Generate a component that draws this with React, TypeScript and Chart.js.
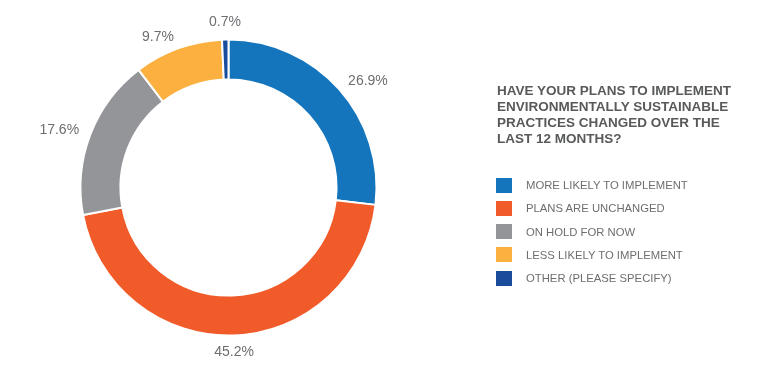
import React, { useEffect, useRef } from "react";
import { Chart, registerables } from "chart.js";

Chart.register(...registerables);

const categories = [
  "MORE LIKELY TO IMPLEMENT",
  "PLANS ARE UNCHANGED",
  "ON HOLD FOR NOW",
  "LESS LIKELY TO IMPLEMENT",
  "OTHER (PLEASE SPECIFY)",
];
const values = [26.9, 45.2, 17.6, 9.7, 0.7];
const valueLabels = ["26.9%", "45.2%", "17.6%", "9.7%", "0.7%"];
const colors = ["#1475bd", "#f15a29", "#939598", "#fbb040", "#1a4c9c"];
const titleLines = [
  "HAVE YOUR PLANS TO IMPLEMENT",
  "ENVIRONMENTALLY SUSTAINABLE",
  "PRACTICES CHANGED OVER THE",
  "LAST 12 MONTHS?",
];

const labelPlugin = {
  id: "outerLabels",
  afterDatasetsDraw(chart: any) {
    const ctx = chart.ctx;
    const meta = chart.getDatasetMeta(0);
    ctx.save();
    ctx.font = '14px "Liberation Sans", Arial, sans-serif';
    ctx.fillStyle = "#6d6e71";
    meta.data.forEach((arc: any, i: number) => {
      const p = arc.getProps(["x", "y", "startAngle", "endAngle", "outerRadius"], true);
      const mid = (p.startAngle + p.endAngle) / 2;
      const ux = Math.cos(mid);
      const uy = Math.sin(mid);
      const r = p.outerRadius + 12;
      let x = p.x + ux * r;
      let y = p.y + uy * r;
      const h = 10;
      if (ux > 0.3) {
        ctx.textAlign = "left";
      } else if (ux < -0.3) {
        ctx.textAlign = "right";
      } else {
        ctx.textAlign = "center";
        y += (uy * h) / 2;
      }
      ctx.textBaseline = "middle";
      ctx.fillText(valueLabels[i], x, y);
    });
    ctx.restore();
  },
};

export default function App() {
  const ref = useRef<HTMLCanvasElement | null>(null);
  useEffect(() => {
    if (!ref.current) return;
    const chart = new Chart(ref.current, {
      type: "doughnut",
      data: {
        labels: categories,
        datasets: [
          {
            data: values,
            backgroundColor: colors,
            borderColor: "#ffffff",
            borderWidth: 2,
          },
        ],
      },
      options: {
        animation: false,
        responsive: false,
        maintainAspectRatio: false,
        cutout: "73%",
        layout: { padding: { left: 79.5, top: 38.5, right: 390.5, bottom: 47.5 } },
        plugins: {
          legend: { display: false },
          tooltip: { enabled: false },
          title: { display: false },
        },
      },
      plugins: [labelPlugin],
    });
    return () => chart.destroy();
  }, []);

  return (
    <div style={{ position: "absolute", left: 0, top: 0, width: 768, height: 384, background: "#fff" }}>
      <canvas ref={ref} width={768} height={384} style={{ position: "absolute", left: 0, top: 0, width: 768, height: 384 }} />
      <div
        style={{
          position: "absolute",
          left: 497,
          top: 83,
          fontFamily: '"Liberation Sans", Arial, sans-serif',
          fontWeight: "bold",
          fontSize: 13.5,
          lineHeight: "16px",
          color: "#58595b",
          whiteSpace: "nowrap",
        }}
      >
        {titleLines.map((t, i) => (
          <div key={i}>{t}</div>
        ))}
      </div>
      {categories.map((c, i) => (
        <div
          key={c}
          style={{
            position: "absolute",
            left: 496,
            top: 185 + i * 23.3 - 8,
            height: 16,
            display: "flex",
            alignItems: "center",
            whiteSpace: "nowrap",
          }}
        >
          <div style={{ width: 16, height: 15, background: colors[i] }} />
          <div
            style={{
              marginLeft: 14,
              fontFamily: '"Liberation Sans", Arial, sans-serif',
              fontSize: 11.3,
              color: "#6d6e71",
            }}
          >
            {c}
          </div>
        </div>
      ))}
    </div>
  );
}
